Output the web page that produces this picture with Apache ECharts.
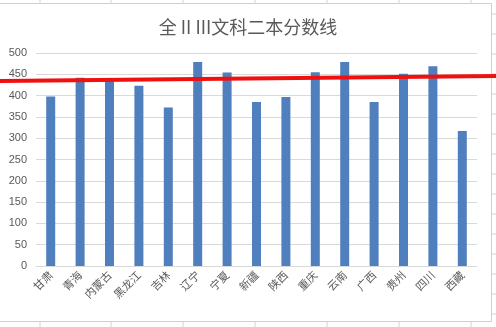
<!DOCTYPE html>
<html lang="zh">
<head>
    <meta charset="UTF-8">
    <title>全 II III文科二本分数线</title>
    <script src="https://cdn.jsdelivr.net/npm/echarts@6/dist/echarts.min.js"></script>
    <style>
        html, body { margin: 0; padding: 0; background: #fff; }
        #container { width: 496px; height: 327px; }
    </style>
</head>
<body>
<div id="container"></div>
<script>
    // 省份
    var provinces = ['甘肃', '青海', '内蒙古', '黑龙江', '吉林', '辽宁', '宁夏', '新疆',
        '陕西', '重庆', '云南', '广西', '贵州', '四川', '西藏'];
    // 文科二本分数线
    var scores = [398, 442, 437, 423, 372, 479, 454, 385, 397, 455, 479, 385, 451, 469, 317];
    // 手画的红线 (左端, 右端)
    var redLine = [[0, 434], [1, 446]];
    var yTicks = [0, 500, 50];

    var chart = echarts.init(document.getElementById('container'));

    // 表格背景的格线
    var cellX = [40, 111, 183, 255, 327, 399, 471];
    var cellY = [14, 34, 54, 74, 94, 114, 134, 154, 174, 194, 214, 234, 254, 274, 294, 314];
    var deco = [];
    cellX.forEach(function (x) {
        deco.push({ type: 'line', shape: { x1: x, y1: 0, x2: x, y2: 3 }, style: { stroke: '#d4d4d4', lineWidth: 1 } });
        deco.push({ type: 'line', shape: { x1: x, y1: 322, x2: x, y2: 327 }, style: { stroke: '#d4d4d4', lineWidth: 1 } });
    });
    cellY.forEach(function (y) {
        deco.push({ type: 'line', shape: { x1: 492, y1: y, x2: 496, y2: y }, style: { stroke: '#d4d4d4', lineWidth: 1 } });
    });
    deco.push({ type: 'polyline', shape: { points: [[0, 3.5], [491.5, 3.5], [491.5, 321.5], [0, 321.5]] },
        style: { stroke: '#d0d0d0', fill: null, lineWidth: 1 } });

    var option = {
        backgroundColor: '#fff',
        animation: false,
        title: {
            text: '全 II III文科二本分数线',
            left: 'center',
            top: 13,
            textStyle: {
                fontFamily: 'Noto Sans CJK SC',
                fontSize: 18,
                fontWeight: 'normal',
                color: '#595959'
            }
        },
        graphic: deco,
        grid: [
            { left: 36, right: 19, top: 53, bottom: 61 },
            { left: 0, right: 0, top: 53, bottom: 61 }
        ],
        xAxis: [
            {
                type: 'category',
                gridIndex: 0,
                data: provinces,
                axisLine: { lineStyle: { color: '#d9d9d9' } },
                axisTick: { show: false },
                axisLabel: {
                    rotate: 45,
                    interval: 0,
                    margin: 7,
                    fontSize: 11,
                    color: '#595959',
                    fontFamily: 'Noto Sans CJK SC'
                }
            },
            { type: 'value', gridIndex: 1, min: 0, max: 1, show: false }
        ],
        yAxis: [
            {
                type: 'value',
                gridIndex: 0,
                min: yTicks[0],
                max: yTicks[1],
                interval: yTicks[2],
                axisLine: { show: false },
                axisTick: { show: false },
                axisLabel: { fontSize: 11, color: '#595959', margin: 9, fontFamily: 'Liberation Sans' },
                splitLine: { lineStyle: { color: '#d9d9d9' } }
            },
            { type: 'value', gridIndex: 1, min: yTicks[0], max: yTicks[1], show: false }
        ],
        series: [
            {
                type: 'bar',
                xAxisIndex: 0,
                yAxisIndex: 0,
                data: scores,
                barWidth: 9,
                itemStyle: { color: '#4f7fbd' }
            },
            {
                type: 'line',
                xAxisIndex: 1,
                yAxisIndex: 1,
                data: redLine,
                showSymbol: false,
                lineStyle: { color: '#f01010', width: 4 },
                z: 5
            }
        ]
    };

    chart.setOption(option);
</script>
</body>
</html>
